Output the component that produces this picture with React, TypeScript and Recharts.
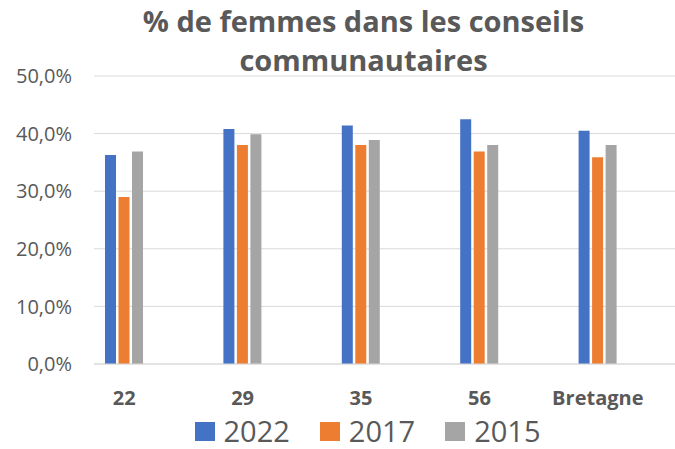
import React from 'react';
import { BarChart, Bar, XAxis, YAxis, CartesianGrid, Legend } from 'recharts';

// departements + region
const categories = ['22', '29', '35', '56', 'Bretagne'];
const values2022 = [36.3, 40.8, 41.4, 42.5, 40.5];
const values2017 = [29.0, 38.0, 38.0, 36.9, 35.9];
const values2015 = [36.9, 39.9, 38.9, 38.0, 38.0];
const seriesNames = ['2022', '2017', '2015'];
const seriesColors = ['#4472C4', '#ED7D31', '#A5A5A5'];
const yTicks = [0, 10, 20, 30, 40, 50];

const data = categories.map((name, i) => ({
  name,
  '2022': values2022[i],
  '2017': values2017[i],
  '2015': values2015[i],
}));

const FONT = '"Open Sans", sans-serif';
const GREY = '#595959';

const fmtPct = (v: number) => v.toFixed(1).replace('.', ',') + '%';

const LegendContent: React.FC<any> = () => (
  <div
    style={{
      height: 55,
      boxSizing: 'border-box',
      paddingTop: 19,
      paddingLeft: 60,
      display: 'flex',
      justifyContent: 'center',
      alignItems: 'center',
      fontFamily: FONT,
      fontSize: 29,
      color: GREY,
      lineHeight: '34px',
    }}
  >
    {seriesNames.map((s, i) => (
      <span key={s} style={{ display: 'inline-flex', alignItems: 'center', marginLeft: i === 0 ? 0 : 30 }}>
        <span style={{ width: 20, height: 19, background: seriesColors[i], marginRight: 9, display: 'inline-block' }} />
        <span>{s}</span>
      </span>
    ))}
  </div>
);

export default function App() {
  return (
    <div style={{ position: 'absolute', left: 0, top: 0, width: 675, height: 449, background: '#fff', fontFamily: FONT }}>
      <div
        style={{
          position: 'absolute',
          left: 0,
          top: 1,
          width: 675,
          paddingLeft: 52,
          boxSizing: 'border-box',
          textAlign: 'center',
          fontWeight: 700,
          fontSize: 29,
          lineHeight: '39px',
          color: GREY,
          zIndex: 2,
        }}
      >
        % de femmes dans les conseils
        <br />
        communautaires
      </div>
      <BarChart
        width={675}
        height={449}
        data={data}
        margin={{ top: 76, right: 0, bottom: 0, left: 0 }}
        barSize={11}
        barGap={2.5}
      >
        <CartesianGrid vertical={false} stroke="#d9d9d9" />
        <XAxis
          dataKey="name"
          height={30}
          padding={{ left: -29, right: 18 }}
          axisLine={{ stroke: '#d9d9d9' }}
          tickLine={false}
          tickSize={0}
          tickMargin={27}
          interval={0}
          tick={{ fill: GREY, fontSize: 20, fontWeight: 700, fontFamily: FONT }}
        />
        <YAxis
          width={94}
          domain={[0, 50]}
          ticks={yTicks}
          interval={0}
          axisLine={false}
          tickLine={false}
          tickSize={0}
          tickMargin={22}
          tickFormatter={fmtPct}
          tick={{ fill: GREY, fontSize: 20, fontFamily: FONT }}
        />
        <Legend verticalAlign="bottom" content={<LegendContent />} />
        {seriesNames.map((s, i) => (
          <Bar key={s} dataKey={s} fill={seriesColors[i]} isAnimationActive={false} />
        ))}
      </BarChart>
    </div>
  );
}
